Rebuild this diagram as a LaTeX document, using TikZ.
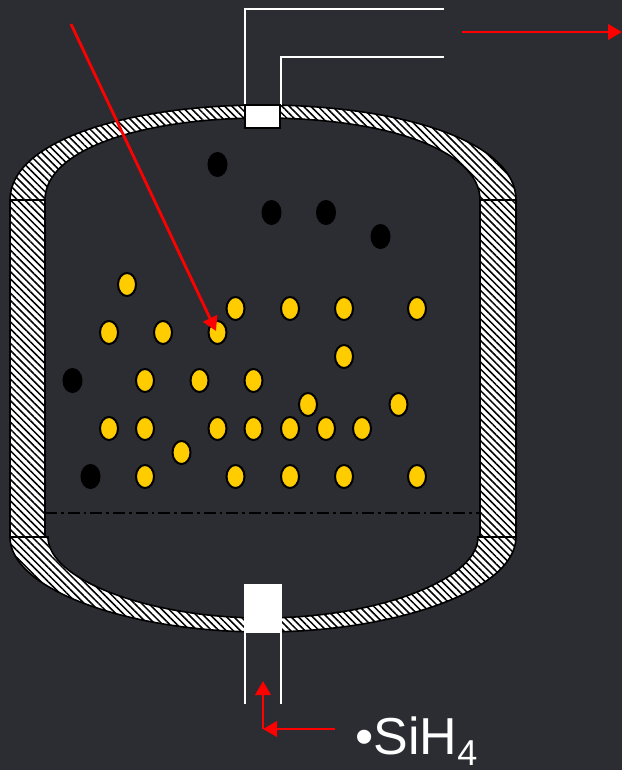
\documentclass[tikz,border=0pt]{standalone}
\usepackage{fontspec}
\setmainfont{Liberation Sans}
\usetikzlibrary{patterns.meta,arrows.meta}
\definecolor{bgc}{HTML}{2B2D32}
\definecolor{gold}{HTML}{FFCC00}
\tikzset{
  hatch/.style={pattern={Lines[angle=-45,distance=3.8pt,line width=1.15pt]},pattern color=black},
  shell/.style={draw=black,line width=1.2pt},
  pipe/.style={draw=white,line width=1pt},
  flow/.style={draw=red,line width=2.1pt,-{Triangle[length=10.5pt,width=11.5pt]}},
  goldp/.style={fill=gold,draw=black,line width=1.5pt},
  blackp/.style={fill=black,draw=black,line width=1.5pt}
}
\begin{document}
\begin{tikzpicture}[x=0.75pt,y=-0.75pt]
\useasboundingbox (0,0) rectangle (622,770);
\fill[bgc] (0,0) rectangle (622,770);
% hatched shell
\fill[white] (10,200) .. controls (10,140) and (130,105) .. (263,105) .. controls (396,105) and (516,140) .. (516,200) -- (480,200) .. controls (480,150) and (386,118) .. (263,118) .. controls (140,118) and (45,150) .. (45,200) -- cycle;
\path[hatch,shell] (10,200) .. controls (10,140) and (130,105) .. (263,105) .. controls (396,105) and (516,140) .. (516,200) -- (480,200) .. controls (480,150) and (386,118) .. (263,118) .. controls (140,118) and (45,150) .. (45,200) -- cycle;
\fill[white] (10,537) .. controls (10,590) and (130,632) .. (263,632) .. controls (396,632) and (516,590) .. (516,537) -- (478,537) .. controls (478,580) and (376,618) .. (263,618) .. controls (150,618) and (48,580) .. (48,537) -- cycle;
\path[hatch,shell] (10,537) .. controls (10,590) and (130,632) .. (263,632) .. controls (396,632) and (516,590) .. (516,537) -- (478,537) .. controls (478,580) and (376,618) .. (263,618) .. controls (150,618) and (48,580) .. (48,537) -- cycle;
\foreach \xa/\xb in {10/45,480/516}{
  \fill[white] (\xa,200) rectangle (\xb,537);
  \path[hatch,shell] (\xa,200) rectangle (\xb,537);
}
% pipes
\draw[pipe] (245,105) -- (245,9) -- (444,9);
\draw[pipe] (281,105) -- (281,57) -- (444,57);
\draw[pipe] (245,632) -- (245,704);
\draw[pipe] (281,632) -- (281,704);
\fill[white,draw=black,line width=1pt] (245,105) rectangle (280,128);
\fill[white] (244,584) rectangle (282,633);
% level line
\draw[black,line width=1pt,dash pattern=on 9pt off 3pt on 2pt off 3pt] (45,513) -- (480,513);
% particles
\foreach \x/\y in {217.5/164.5,271.5/212.5,326/212.5,380.5/236.5,72.5/380.5,90.5/476.5}
  \draw[blackp] (\x,\y) ellipse (9 and 11.5);
\foreach \x/\y in {127/284.5,235.5/308.5,290/308.5,344/308.5,417/308.5,109/332.5,163/332.5,217.5/332.5,344/356.5,145/380.5,199.5/380.5,253.5/380.5,308/404.5,398.5/404.5,109/428.5,145/428.5,217.5/428.5,253.5/428.5,290/428.5,326/428.5,362/428.5,181.5/452.5,145/476.5,235.5/476.5,290/476.5,344/476.5,417/476.5}
  \draw[goldp] (\x,\y) ellipse (9 and 11.5);
% arrows
\coordinate (a1) at (71,24);
\coordinate (a2) at (216,331);
\coordinate (b1) at (462,32);
\coordinate (b2) at (622,32);
\coordinate (c1) at (335,729);
\coordinate (c2) at (263,729);
\coordinate (c3) at (263,681);
\draw[flow] (a1) -- (a2);
\draw[flow] (b1) -- (b2);
\draw[flow] (c1) -- (c2);
\draw[flow] (c2) -- (c3);
\node[anchor=base west,inner sep=0pt,text=white,font=\fontsize{39}{46}\selectfont] (silane) at (355,754.5) {•SiH\raisebox{-8.5pt}{\fontsize{27}{32}\selectfont 4}};
\end{tikzpicture}
\end{document}
